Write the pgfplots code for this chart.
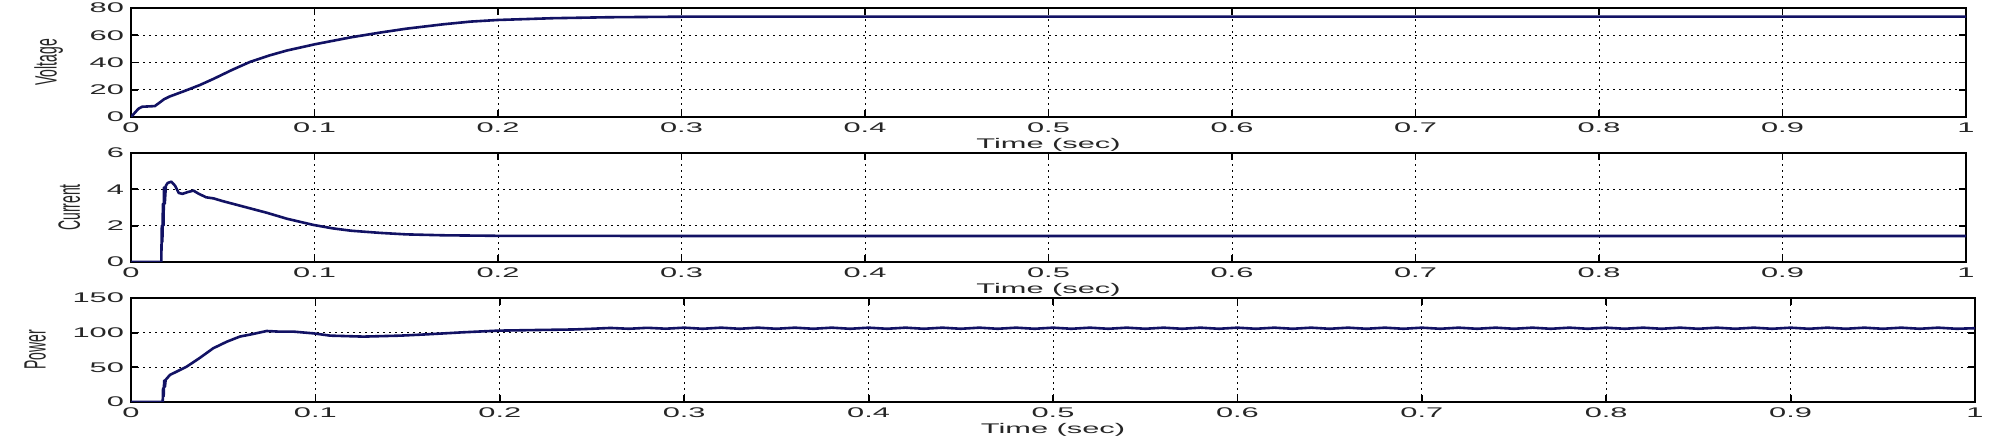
\documentclass[border=0pt]{standalone}
\usepackage{graphicx}
\usepackage{fontspec}
\setmainfont{Liberation Sans}
\newfontfamily\wide[FakeStretch=2.2]{Liberation Sans}
\usepackage{pgfplots}
\pgfplotsset{compat=1.18}
\definecolor{navy}{RGB}{18,18,100}
\pgfplotsset{
  mat/.style={
    scale only axis,
    xmin=0, xmax=1,
    xtick={0,0.1,0.2,0.3,0.4,0.5,0.6,0.7,0.8,0.9,1},
    xticklabels={0,0.1,0.2,0.3,0.4,0.5,0.6,0.7,0.8,0.9,1},
    tick align=inside,
    tick pos=both,
    major tick length=3.5pt,
    every tick/.style={black, line width=0.9pt},
    axis line style={black, line width=0.7pt},
    grid=major,
    major grid style={black, line width=0.45pt, dash pattern=on 0.8pt off 2.2pt},
    /pgf/number format/assume math mode=true,
    tick label style={font=\wide\fontsize{7}{8}\selectfont, text=black!85},
    xticklabel style={yshift=0.5pt},
    xlabel={Time (sec)},
    xlabel style={font=\wide\fontsize{7}{8}\selectfont, text=black!85, yshift=4pt},
    ylabel style={font=\fontsize{7}{8}\selectfont, text=black!85, yshift=6.5pt},
  },
  ln/.style={navy, line width=1.3pt, line join=round, no markers},
}
\begin{document}
\begin{tikzpicture}
\path[use as bounding box] (0,0) rectangle (1002pt,218.5pt);
% Voltage
\begin{axis}[mat, at={(65.5pt,160pt)}, anchor=south west, width=917.5pt, height=54.5pt,
  ymin=0, ymax=80, ytick={0,20,40,60,80},
  ylabel={\scalebox{1}[2.2]{Voltage}}]
\addplot[ln] coordinates {
(0,0) (0.002,3) (0.004,6) (0.006,7.5) (0.010,7.8) (0.013,8) (0.016,11) (0.018,13)
(0.021,15) (0.025,17) (0.03,19.5) (0.0376,23.5) (0.045,28) (0.055,34.5) (0.065,40.5)
(0.075,45) (0.085,48.8) (0.1,53.3) (0.12,58.5) (0.136,62) (0.15,64.8) (0.17,68)
(0.185,70) (0.2,71.2) (0.23,72.5) (0.26,73.2) (0.3,73.6) (0.4,73.7) (0.5,73.7)
(0.6,73.7) (0.7,73.7) (0.8,73.7) (0.9,73.7) (1,73.7)
};
\end{axis}
% Current
\begin{axis}[mat, at={(65.5pt,87.5pt)}, anchor=south west, width=917.5pt, height=54.5pt,
  ymin=0, ymax=6, ytick={0,2,4,6},
  ylabel={\scalebox{1}[2.2]{Current}}]
\addplot[ln] coordinates {
(0,0) (0.0165,0) (0.0168,2) (0.0171,1.1) (0.0174,3.2) (0.0177,2.0) (0.018,4.1)
(0.0184,3.2) (0.019,4.2) (0.02,4.35) (0.022,4.42) (0.024,4.2) (0.026,3.8) (0.028,3.75)
(0.031,3.85) (0.034,3.93) (0.037,3.75) (0.041,3.56) (0.045,3.5) (0.05,3.35) (0.056,3.19)
(0.065,2.95) (0.074,2.71) (0.085,2.38) (0.0994,2.04) (0.11,1.85) (0.12,1.72) (0.136,1.6)
(0.15,1.52) (0.17,1.47) (0.2,1.44) (0.3,1.43) (0.5,1.43) (0.7,1.43) (1,1.43)
};
\end{axis}
% Power
\begin{axis}[mat, at={(65.5pt,17.5pt)}, anchor=south west, width=922pt, height=52pt,
  ymin=0, ymax=150, ytick={0,50,100,150},
  ylabel={\scalebox{1}[2.2]{Power}}]
\addplot[ln] coordinates {
(0,0) (0.0172,0) (0.0174,20) (0.0177,8) (0.018,31) (0.0184,22) (0.0188,32) (0.0211,39)
(0.0302,51) (0.037,63) (0.0446,77.5) (0.052,87) (0.059,94.3) (0.066,98) (0.0736,102.4)
(0.08,101.5) (0.0881,101.5) (0.0989,99) (0.108,95.7) (0.126,94.3) (0.146,95.7)
(0.16,97.5) (0.18,100.5) (0.199,102.9) (0.22,103.8) (0.24,104.6)
(0.25,105.6) (0.26,106.8) (0.27,105.6) (0.28,107) (0.29,105.7) (0.30,107.2)
(0.31,105.6) (0.32,107.2) (0.33,105.6) (0.34,107.2) (0.35,105.6) (0.36,107.2)
(0.37,105.6) (0.38,107.2) (0.39,105.6) (0.40,107.2) (0.41,105.6) (0.42,107.2)
(0.43,105.6) (0.44,107.2) (0.45,105.6) (0.46,107.2) (0.47,105.6) (0.48,107.2)
(0.49,105.6) (0.50,107.2) (0.51,105.6) (0.52,107.2) (0.53,105.6) (0.54,107.2)
(0.55,105.6) (0.56,107.2) (0.57,105.6) (0.58,107.2) (0.59,105.6) (0.60,107.2)
(0.61,105.6) (0.62,107.2) (0.63,105.6) (0.64,107.2) (0.65,105.6) (0.66,107.2)
(0.67,105.6) (0.68,107.2) (0.69,105.6) (0.70,107.2) (0.71,105.6) (0.72,107.2)
(0.73,105.6) (0.74,107.2) (0.75,105.6) (0.76,107.2) (0.77,105.6) (0.78,107.2)
(0.79,105.6) (0.80,107.2) (0.81,105.6) (0.82,107.2) (0.83,105.6) (0.84,107.2)
(0.85,105.6) (0.86,107.2) (0.87,105.6) (0.88,107.2) (0.89,105.6) (0.90,107.2)
(0.91,105.6) (0.92,107.2) (0.93,105.6) (0.94,107.2) (0.95,105.6) (0.96,107.2)
(0.97,105.6) (0.98,107.2) (0.99,105.6) (1,106.4)
};
\end{axis}
\end{tikzpicture}
\end{document}
